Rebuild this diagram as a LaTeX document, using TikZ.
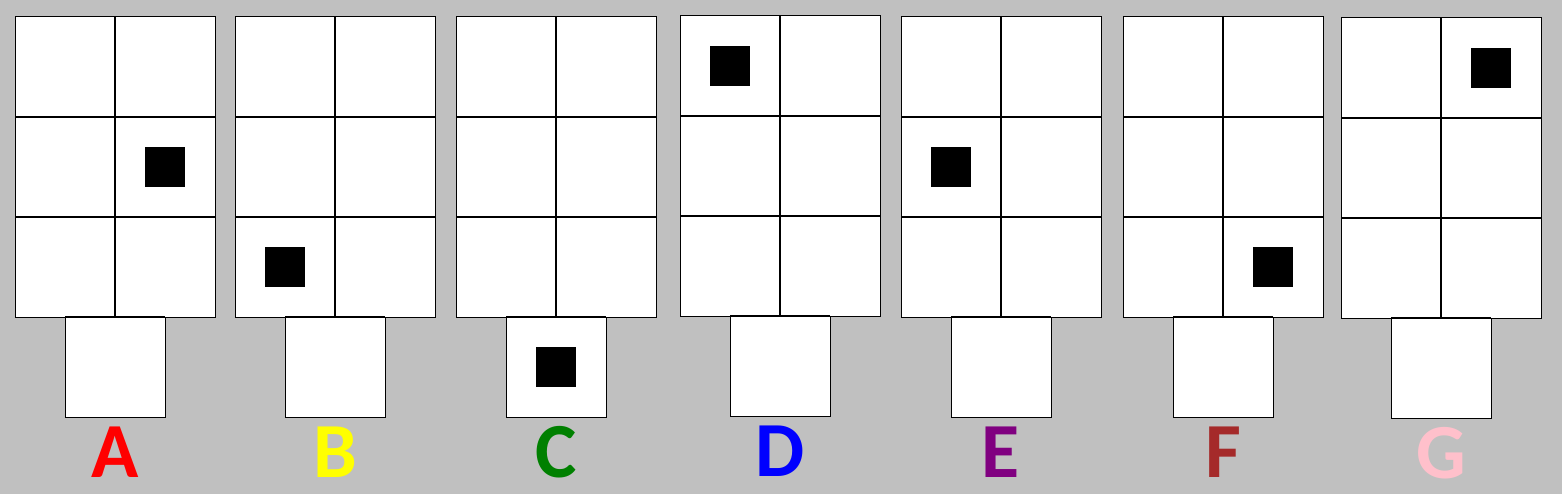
\documentclass[tikz,border=0pt]{standalone}
\usepackage{fontspec}
\setmainfont{Carlito}
\usetikzlibrary{positioning}
\definecolor{panelbg}{RGB}{192,192,192}
\definecolor{tagred}{RGB}{255,0,0}
\definecolor{tagyellow}{RGB}{255,255,0}
\definecolor{taggreen}{RGB}{0,128,0}
\definecolor{tagblue}{RGB}{0,0,255}
\definecolor{tagpurple}{RGB}{128,0,128}
\definecolor{tagbrown}{RGB}{165,42,42}
\definecolor{tagpink}{RGB}{255,192,203}

\begin{document}
\begin{tikzpicture}[x=1pt, y=-1pt,
  cell/.style={draw, fill=white, line width=1pt, minimum size=100pt, inner sep=0pt, outer sep=0pt},
  dot/.style={fill=black, minimum size=40pt, inner sep=0pt},
  tag/.style={font=\bfseries\fontsize{78}{80}\selectfont, anchor=base, inner sep=0pt}]
\useasboundingbox (0,0) rectangle (1562,494);
\fill[panelbg] (0,0) rectangle (1562,494);
% one panel: 2x3 grid, one square below, marked cell, letter
\foreach \name/\col/\px/\py/\mark in {A/tagred/15/17/2-2, B/tagyellow/235/17/3-1,
    C/taggreen/456/17/4, D/tagblue/680/16/1-1, E/tagpurple/901/17/2-1,
    F/tagbrown/1123/17/3-2, G/tagpink/1341/18/1-2}{
  \foreach \i in {1,2,3}{
    \foreach \j in {1,2}{
      \node[cell] (\name-\i-\j) at (\px+\j*100-50, \py+\i*100-50) {};
    }
  }
  \node[cell] (\name-4) at (\px+100, \py+350) {};
  \draw[line width=2pt] (\name-1-1.north east) -- (\name-3-1.south east);
  \draw[line width=2pt] (\name-1-1.south west) -- (\name-1-2.south east);
  \draw[line width=2pt] (\name-2-1.south west) -- (\name-2-2.south east);
  \draw[line width=2pt] (\name-4.north west) -- (\name-4.north east);
  \node[dot] (\name-dot) at (\name-\mark) {};
  \node[tag, text=\col] (\name-tag) at (\px+100, \py+460) {\name};
}
\end{tikzpicture}
\end{document}
